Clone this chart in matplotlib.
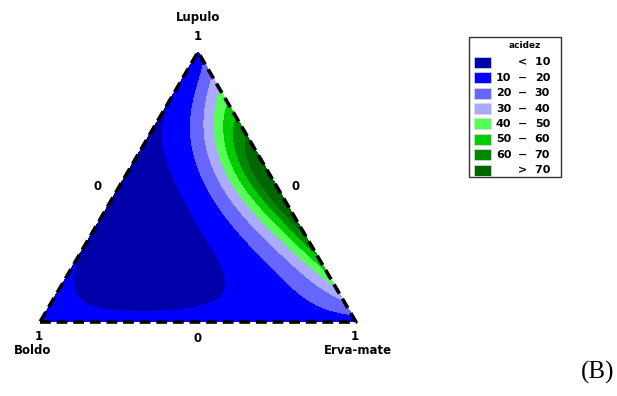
import numpy as np
import matplotlib.pyplot as plt
import matplotlib.tri as mtri
from matplotlib.patches import Rectangle

# fitted response surface for acidez: ln(acidez) = polynomial in x_E (Erva-mate) and x_L (Lupulo)
# terms ordered E^i * L^j, i = 0..6, j = 0..6-i   (x_Boldo = 1 - x_E - x_L)
coef = [2.597, 1.251, -19.063, 43.198, -25.752, -12.697, 13.071,
        -1.535, -39.837, 32.932, 77.672, -37.680, -15.033,
        8.878, 86.417, 74.815, -28.159, -173.971,
        -27.370, -65.969, -68.083, -100.684,
        45.983, 11.463, 10.380,
        -36.849, 17.448,
        11.027]

levels = [10, 20, 30, 40, 50, 60, 70]
colors = ['#0000aa', '#0000ff', '#6666ff', '#aaaaff',
          '#55ff55', '#00cc00', '#008800', '#006600']
leg_lo = ['', '10', '20', '30', '40', '50', '60', '']
leg_hi = ['<  10', '20', '30', '40', '50', '60', '70', '>  70']
components = ['Boldo', 'Erva-mate', 'Lupulo']


def acidez(e, l, c, deg=6):
    out = np.zeros_like(e)
    k = 0
    for i in range(deg + 1):
        for j in range(deg + 1 - i):
            out += c[k] * e**i * l**j
            k += 1
    return np.exp(out)


W, H = 617, 396
fig = plt.figure(figsize=(W / 100, H / 100), dpi=100)

def px(x, y):
    return x / W, 1 - y / H

s3 = np.sqrt(3) / 2
ax = fig.add_axes([40 / W, (H - 322) / H, 316 / W, 270 / H])
ax.set_xlim(0, 1)
ax.set_ylim(0, s3)
ax.axis('off')

n = 180
g = np.linspace(0, 1, n + 1)
e, l = np.meshgrid(g, g)
m = e + l <= 1 + 1e-9
e, l = e[m], l[m]
X = e + l / 2
Y = l * s3
z = acidez(e, l, coef)
tri = mtri.Triangulation(X, Y)
lev = [min(z.min(), 0) - 1] + levels + [max(z.max(), 100) + 1]
ax.tricontourf(tri, z, levels=lev, colors=colors, antialiased=False)

ax.plot([0, 1, 0.5, 0], [0, 0, s3, 0], color='black', lw=2.6,
        dashes=(3, 1.6), clip_on=False, solid_capstyle='butt')

fk = dict(fontsize=8.5, fontweight='bold', ha='center', va='center',
          family='DejaVu Sans')
fig.text(*px(198, 18), components[2], **fk)
fig.text(*px(198, 37), '1', **fk)
fig.text(*px(98, 186), '0', **fk)
fig.text(*px(296, 186), '0', **fk)
fig.text(*px(198, 338), '0', **fk)
fig.text(*px(39, 337), '1', **fk)
fig.text(*px(33, 351), components[0], **fk)
fig.text(*px(355, 337), '1', **fk)
fig.text(*px(358, 351), components[1], **fk)

# legend
fig.patches.append(Rectangle(px(469, 177), 92 / W, 140 / H, transform=fig.transFigure,
                             fill=False, edgecolor='#333333', lw=1))
fig.text(*px(525, 46), 'acidez', fontsize=6.5, fontweight='bold',
         ha='center', va='center')
for i, c in enumerate(colors):
    y = 62.3 + 15.4 * i
    fig.patches.append(Rectangle(px(474, y + 5.5), 17 / W, 11 / H,
                                 transform=fig.transFigure, facecolor=c,
                                 edgecolor='#dddddd', lw=0.5))
    lt = dict(fontsize=8, fontweight='bold', va='center', family='DejaVu Sans')
    if leg_lo[i]:
        fig.text(*px(496, y), leg_lo[i], ha='left', **lt)
        fig.text(*px(523, y), '\u2212', ha='center', **lt)
        fig.text(*px(550, y), leg_hi[i], ha='right', **lt)
    else:
        fig.text(*px(550, y), leg_hi[i], ha='right', **lt)

fig.text(*px(598, 372), '(B)', fontsize=18, family='Liberation Serif',
         ha='center', va='center')

fig.savefig('out.png', dpi=100)
